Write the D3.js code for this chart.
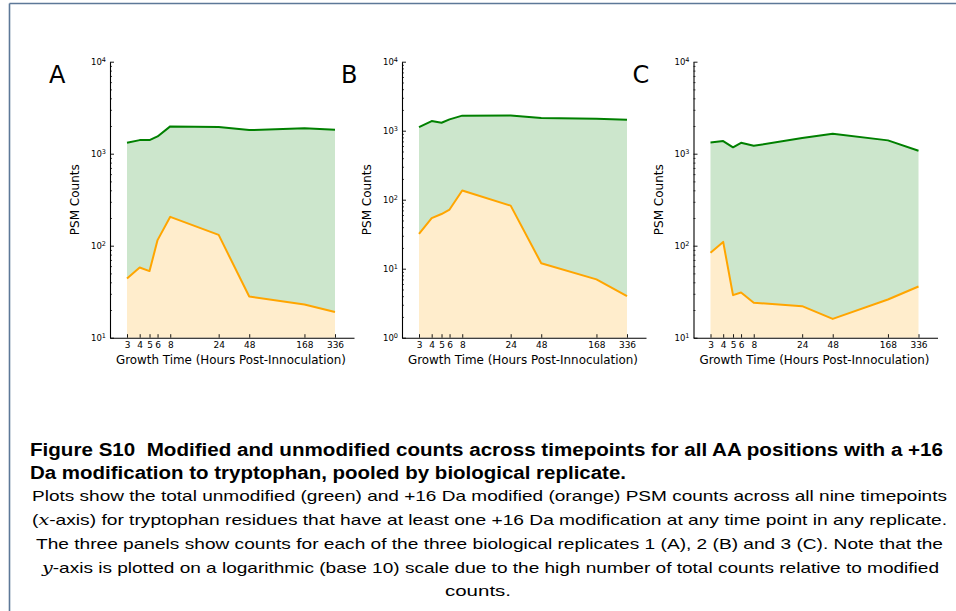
<!DOCTYPE html>
<html>
<head>
<meta charset="utf-8">
<script src="https://cdn.jsdelivr.net/npm/d3@7"></script>
<style>
  html, body { margin: 0; padding: 0; background: #fff; }
  svg { display: block; }
</style>
</head>
<body>
<svg id="fig" width="956" height="611"></svg>
<script>
// Growth timepoints (hours post-inoculation)
const hours = [3, 4, 5, 6, 8, 24, 48, 168, 336];
const hourLabels = ["3", "4", "5", "6", "8", "24", "48", "168", "336"];

// Replicate 1 (A)
const unmodA = [1315, 1405, 1405, 1540, 1980, 1950, 1805, 1885, 1820];
const modA   = [44, 58, 53, 115, 206, 131, 28, 23, 19];
// Replicate 2 (B)
const unmodB = [1128, 1378, 1303, 1460, 1652, 1655, 1525, 1490, 1440];
const modB   = [32, 54, 62, 72, 136, 82, 12, 7, 4];
// Replicate 3 (C)
const unmodC = [1327, 1371, 1172, 1315, 1219, 1479, 1648, 1396, 1076];
const modC   = [84, 110, 29, 31, 24, 22, 16, 26, 36];

const panelLetters = ["A", "B", "C"];
const yMins = [10, 1, 10];
const yMax = 10000;

const panels = [
  { letter: panelLetters[0], unmod: unmodA, mod: modA, yMin: yMins[0] },
  { letter: panelLetters[1], unmod: unmodB, mod: modB, yMin: yMins[1] },
  { letter: panelLetters[2], unmod: unmodC, mod: modC, yMin: yMins[2] }
];

const svg = d3.select("#fig");

// page frame
svg.append("line").attr("x1", 9.5).attr("x2", 956).attr("y1", 3.5).attr("y2", 3.5)
  .attr("stroke", "#5d7898").attr("stroke-width", 1.6);
svg.append("line").attr("x1", 9.5).attr("x2", 9.5).attr("y1", 3.5).attr("y2", 611)
  .attr("stroke", "#5d7898").attr("stroke-width", 1.6);

const axisLeftX = [110, 402, 693.5];
const axisLen = 244;
const yTop = 61.7, yBottom = 337.7;
const tickFont = "'DejaVu Sans', sans-serif";

// extend the log x-domain slightly beyond the first/last timepoint
const lsp = Math.log10(336 / 3);
const xLo = Math.pow(10, Math.log10(3) - lsp * 17 / 208);
const xHi = Math.pow(10, Math.log10(336) + lsp * 19 / 208);

panels.forEach((p, i) => {
  const x0 = axisLeftX[i];
  const g = svg.append("g");

  const x = d3.scaleLog().domain([xLo, xHi]).range([x0, x0 + axisLen]);
  const y = d3.scaleLog().domain([p.yMin, yMax]).range([yBottom, yTop]);

  const rows = hours.map((h, k) => ({ h, u: p.unmod[k], m: p.mod[k] }));

  // fills: green between the two series, orange below the modified series
  g.append("path").datum(rows)
    .attr("fill", "#cce6cc")
    .attr("d", d3.area().x(d => x(d.h)).y0(d => y(d.m)).y1(d => y(d.u)));
  g.append("path").datum(rows)
    .attr("fill", "#ffedcc")
    .attr("d", d3.area().x(d => x(d.h)).y0(yBottom).y1(d => y(d.m)));

  // lines
  g.append("path").datum(rows)
    .attr("fill", "none").attr("stroke", "#008000").attr("stroke-width", 2)
    .attr("stroke-linejoin", "round")
    .attr("d", d3.line().x(d => x(d.h)).y(d => y(d.u)));
  g.append("path").datum(rows)
    .attr("fill", "none").attr("stroke", "#ffa500").attr("stroke-width", 2)
    .attr("stroke-linejoin", "round")
    .attr("d", d3.line().x(d => x(d.h)).y(d => y(d.m)));

  // x axis
  const xa = g.append("g").attr("transform", `translate(0,${yBottom})`)
    .call(d3.axisBottom(x).tickValues(hours)
      .tickFormat((d, k) => hourLabels[k])
      .tickSizeInner(-3.5).tickSizeOuter(0).tickPadding(4));
  xa.select(".domain").attr("stroke", "#000").attr("stroke-width", 1.1);
  xa.selectAll(".tick line").attr("stroke", "#000").attr("stroke-width", 0.9);
  xa.selectAll(".tick text").attr("font-family", tickFont).attr("font-size", 9).attr("fill", "#000");

  // y axis: decades
  const decades = [];
  for (let v = p.yMin; v <= yMax; v *= 10) decades.push(v);
  const minors = [];
  for (let v = p.yMin; v < yMax; v *= 10) for (let m = 2; m <= 9; m++) minors.push(v * m);

  const ya = g.append("g").attr("transform", `translate(${x0},0)`)
    .call(d3.axisLeft(y).tickValues(decades).tickSizeInner(-4).tickSizeOuter(0).tickPadding(4));
  ya.select(".domain").attr("stroke", "#000").attr("stroke-width", 1.1);
  ya.selectAll(".tick line").attr("stroke", "#000").attr("stroke-width", 0.9);
  ya.selectAll(".tick text")
    .attr("font-family", tickFont).attr("font-size", 8.5).attr("fill", "#000")
    .each(function (d) {
      const t = d3.select(this);
      t.text("10");
      t.append("tspan").attr("dy", "-0.45em").attr("font-size", 6.5)
        .text(Math.round(Math.log10(d)));
    });

  const ym = g.append("g").attr("transform", `translate(${x0},0)`)
    .call(d3.axisLeft(y).tickValues(minors).tickFormat("").tickSizeInner(-2).tickSizeOuter(0));
  ym.select(".domain").remove();
  ym.selectAll(".tick line").attr("stroke", "#000").attr("stroke-width", 0.7);

  // axis titles
  g.append("text")
    .attr("transform", `translate(${x0 - 35},${(yTop + yBottom) / 2}) rotate(-90)`)
    .attr("text-anchor", "middle").attr("dominant-baseline", "central")
    .attr("font-family", tickFont).attr("font-size", 12).attr("fill", "#000")
    .text("PSM Counts");
  g.append("text")
    .attr("x", x0 + axisLen / 2 - 1).attr("y", 364)
    .attr("text-anchor", "middle")
    .attr("font-family", tickFont).attr("font-size", 11.5).attr("fill", "#000")
    .attr("textLength", 230).attr("lengthAdjust", "spacingAndGlyphs")
    .text("Growth Time (Hours Post-Innoculation)");

  // panel letter
  g.append("text")
    .attr("x", x0 - 61).attr("y", 82.7)
    .attr("font-family", tickFont).attr("font-size", 24).attr("fill", "#000")
    .text(p.letter);
});

// caption
const capFont = "'Liberation Sans', Arial, sans-serif";
const mathFont = "'DejaVu Serif', 'Liberation Serif', serif";

function capLine(parts, opts) {
  const t = svg.append("text")
    .attr("x", opts.x).attr("y", opts.y)
    .attr("font-family", capFont).attr("font-size", opts.size)
    .attr("font-weight", opts.bold ? "bold" : "normal")
    .attr("fill", "#000").attr("xml:space", "preserve");
  if (opts.width) t.attr("textLength", opts.width).attr("lengthAdjust", "spacingAndGlyphs");
  if (opts.anchor) t.attr("text-anchor", opts.anchor);
  parts.forEach(pt => {
    const s = t.append("tspan").text(pt.t);
    if (pt.math) s.attr("font-family", mathFont).attr("font-style", "italic");
  });
  return t;
}

capLine([{ t: "Figure S10  Modified and unmodified counts across timepoints for all AA positions with a +16" }],
  { x: 30, y: 456, size: 18, bold: true, width: 913 });
capLine([{ t: "Da modification to tryptophan, pooled by biological replicate." }],
  { x: 30, y: 479, size: 18, bold: true, width: 596 });
capLine([{ t: "Plots show the total unmodified (green) and +16 Da modified (orange) PSM counts across all nine timepoints" }],
  { x: 32, y: 501, size: 14.5, width: 915 });
capLine([{ t: "(" }, { t: "x", math: true }, { t: "-axis) for tryptophan residues that have at least one +16 Da modification at any time point in any replicate." }],
  { x: 32, y: 524.5, size: 14.5, width: 915 });
capLine([{ t: "The three panels show counts for each of the three biological replicates 1 (A), 2 (B) and 3 (C). Note that the" }],
  { x: 36, y: 548.5, size: 14.5, width: 907 });
capLine([{ t: "y", math: true }, { t: "-axis is plotted on a logarithmic (base 10) scale due to the high number of total counts relative to modified" }],
  { x: 42, y: 572.5, size: 14.5, width: 897 });
capLine([{ t: "counts." }],
  { x: 445, y: 596, size: 14.5, width: 66 });
</script>
</body>
</html>
